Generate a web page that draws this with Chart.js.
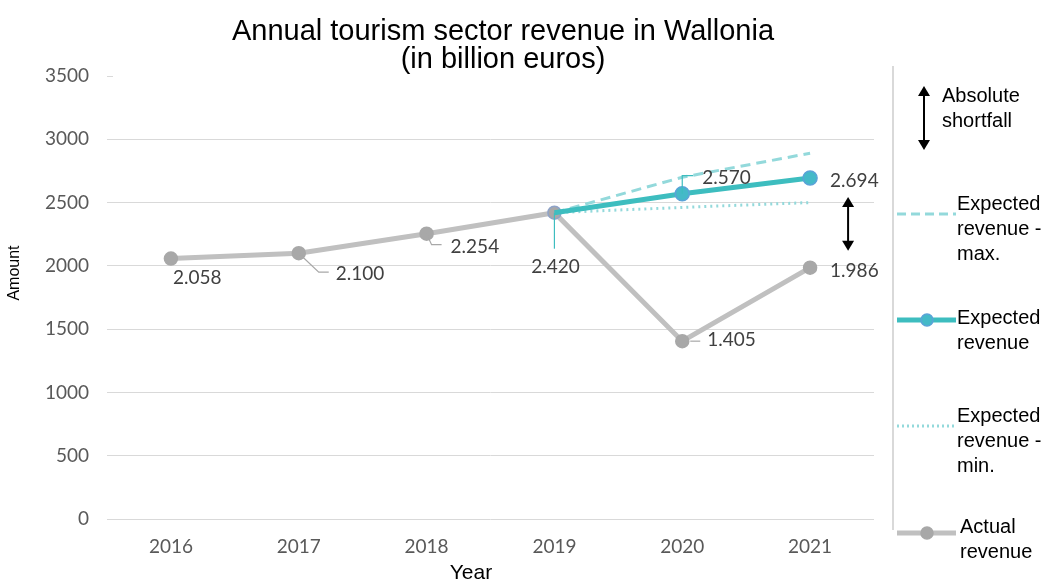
<!DOCTYPE html>
<html>
<head>
<meta charset="utf-8">
<script src="https://cdn.jsdelivr.net/npm/chart.js@4.4.1/dist/chart.umd.min.js"></script>
<style>
  html, body { margin: 0; padding: 0; background: #ffffff; }
  #wrap { width: 1046px; height: 584px; }
</style>
</head>
<body>
<div id="wrap"><canvas id="c" width="1046" height="584"></canvas></div>
<script>
// Years on the horizontal axis
const years = ['2016', '2017', '2018', '2019', '2020', '2021'];

// Revenue in million euros (labels show billions)
const actualRevenue   = [2058, 2100, 2254, 2420, 1405, 1986];
const expectedRevenue = [null, null, null, 2420, 2570, 2694];
const expectedMax     = [null, null, null, 2420, 2700, 2890];
const expectedMin     = [null, null, null, 2420, 2462, 2500];

// Vertical axis ticks
const yTickValues = [0, 500, 1000, 1500, 2000, 2500, 3000, 3500];

const titleLines = ['Annual tourism sector revenue in Wallonia', '(in billion euros)'];
const xAxisTitle = 'Year';
const yAxisTitle = 'Amount';

const TEAL = '#3dbdbf';
const TEAL_LIGHT = '#93d9db';
const GREY = '#c0c0c0';
const GREY_DOT = '#a8a8a8';
const GRID = '#d9d9d9';
const LABEL_COLOR = '#404040';
const LABEL_FONT = '19px Lato';

// Where each value label sits relative to its point, with optional leader line
const actualLabelPlacement = [
  { dx: 2, dy: 19, align: 'left' },
  { dx: 37, dy: 21, align: 'left', leader: [[0, 0], [20, 19], [30, 19]] },
  { dx: 24, dy: 13, align: 'left', leader: [[0, 0], [5, 11], [15, 11]] },
  { dx: 1, dy: 54, align: 'center', leader: [[0, 0], [0, 36]], leaderColor: TEAL },
  { dx: 25, dy: -1, align: 'left', leader: [[8, 0], [18, 0]] },
  { dx: 20, dy: 3, align: 'left' }
];
const expectedLabelPlacement = [
  null, null, null, null,
  { dx: 20, dy: -16, align: 'left', leader: [[0, 0], [0, -18], [11, -18]], leaderColor: TEAL },
  { dx: 20, dy: 3, align: 'left' }
];

function fmtBillion(v) {
  return (v / 1000).toFixed(3);
}

function drawArrow(ctx, x, y1, y2, head, width) {
  ctx.save();
  ctx.strokeStyle = '#000';
  ctx.fillStyle = '#000';
  ctx.lineWidth = width;
  ctx.beginPath();
  ctx.moveTo(x, y1 + head - 1);
  ctx.lineTo(x, y2 - head + 1);
  ctx.stroke();
  ctx.beginPath();
  ctx.moveTo(x, y1);
  ctx.lineTo(x - head * 0.6, y1 + head);
  ctx.lineTo(x + head * 0.6, y1 + head);
  ctx.closePath();
  ctx.fill();
  ctx.beginPath();
  ctx.moveTo(x, y2);
  ctx.lineTo(x - head * 0.6, y2 - head);
  ctx.lineTo(x + head * 0.6, y2 - head);
  ctx.closePath();
  ctx.fill();
  ctx.restore();
}

function drawLabels(chart, datasetIndex, placements) {
  const ctx = chart.ctx;
  const meta = chart.getDatasetMeta(datasetIndex);
  const values = chart.data.datasets[datasetIndex].data;
  meta.data.forEach((pt, i) => {
    const p = placements[i];
    if (!p || values[i] == null) return;
    const x = pt.x, y = pt.y;
    if (p.leader) {
      ctx.save();
      ctx.strokeStyle = p.leaderColor || GREY_DOT;
      ctx.lineWidth = 1.2;
      ctx.beginPath();
      p.leader.forEach(([lx, ly], k) => {
        if (k === 0) ctx.moveTo(x + lx, y + ly); else ctx.lineTo(x + lx, y + ly);
      });
      ctx.stroke();
      ctx.restore();
    }
    ctx.save();
    ctx.font = LABEL_FONT;
    ctx.fillStyle = LABEL_COLOR;
    ctx.textAlign = p.align;
    ctx.textBaseline = 'middle';
    ctx.fillText(fmtBillion(values[i]), x + p.dx, y + p.dy);
    ctx.restore();
  });
}

const annotationsPlugin = {
  id: 'annotations',
  beforeDatasetsDraw(chart) {
    // the top grid line only shows as a short stub next to its label
    const ctx = chart.ctx;
    const y = chart.scales.y.getPixelForValue(yTickValues[yTickValues.length - 1]);
    const left = chart.chartArea.left;
    ctx.save();
    ctx.strokeStyle = GRID;
    ctx.lineWidth = 1;
    ctx.beginPath();
    ctx.moveTo(left, Math.round(y) + 0.5);
    ctx.lineTo(left + 6, Math.round(y) + 0.5);
    ctx.stroke();
    ctx.restore();
  },
  afterDatasetsDraw(chart) {
    const ctx = chart.ctx;
    drawLabels(chart, 3, actualLabelPlacement);
    drawLabels(chart, 1, expectedLabelPlacement);

    // shortfall arrow between expected and actual revenue in the last year
    const y = chart.scales.y;
    const last = years.length - 1;
    const xArrow = chart.scales.x.getPixelForValue(last) + 38;
    drawArrow(ctx, xArrow, y.getPixelForValue(expectedRevenue[last]) + 19,
      y.getPixelForValue(actualRevenue[last]) - 17, 10, 2);
  },
  afterDraw(chart) {
    const ctx = chart.ctx;
    // title
    ctx.save();
    ctx.font = '29px Arial';
    ctx.fillStyle = '#000';
    ctx.textAlign = 'center';
    ctx.textBaseline = 'middle';
    ctx.fillText(titleLines[0], 503, 32);
    ctx.fillText(titleLines[1], 503, 60);
    ctx.restore();

    // axis titles
    ctx.save();
    ctx.fillStyle = '#000';
    ctx.textAlign = 'center';
    ctx.textBaseline = 'middle';
    ctx.font = '21px Arial';
    ctx.fillText(xAxisTitle, 471, 573);
    ctx.translate(15, 273);
    ctx.rotate(-Math.PI / 2);
    ctx.font = '16px Arial';
    ctx.fillText(yAxisTitle, 0, 0);
    ctx.restore();

    // legend panel
    ctx.save();
    ctx.strokeStyle = GRID;
    ctx.lineWidth = 2;
    ctx.beginPath();
    ctx.moveTo(893, 66);
    ctx.lineTo(893, 530);
    ctx.stroke();
    ctx.restore();

    const text = (lines, x, y0, step) => {
      ctx.save();
      ctx.font = '20px Arial';
      ctx.fillStyle = '#000';
      ctx.textAlign = 'left';
      ctx.textBaseline = 'middle';
      lines.forEach((l, k) => ctx.fillText(l, x, y0 + k * step));
      ctx.restore();
    };

    drawArrow(ctx, 924, 86, 150, 10, 2);
    text(['Absolute', 'shortfall'], 942, 96, 25);

    const sample = (y, color, width, dash, marker, fill, border) => {
      ctx.save();
      ctx.strokeStyle = color;
      ctx.lineWidth = width;
      ctx.setLineDash(dash);
      ctx.beginPath();
      ctx.moveTo(897, y);
      ctx.lineTo(956, y);
      ctx.stroke();
      ctx.setLineDash([]);
      if (marker) {
        ctx.fillStyle = fill;
        ctx.strokeStyle = border;
        ctx.lineWidth = 1.5;
        ctx.beginPath();
        ctx.arc(927, y, 6, 0, Math.PI * 2);
        ctx.fill();
        ctx.stroke();
      }
      ctx.restore();
    };

    sample(214, TEAL_LIGHT, 3, [9, 5], false);
    text(['Expected', 'revenue -', 'max.'], 957, 204, 25);

    sample(320, TEAL, 5, [], true, '#44b9c8', '#5aa3d8');
    text(['Expected', 'revenue'], 957, 318, 25);

    sample(426, TEAL_LIGHT, 3, [2, 3], false);
    text(['Expected', 'revenue -', 'min.'], 957, 416, 25);

    sample(533, GREY, 5, [], true, GREY_DOT, GREY_DOT);
    text(['Actual', 'revenue'], 960, 527, 25);
  }
};

new Chart(document.getElementById('c'), {
  type: 'line',
  data: {
    labels: years,
    datasets: [
      {
        label: 'Expected revenue - max.',
        data: expectedMax,
        borderColor: TEAL_LIGHT,
        borderWidth: 3,
        borderDash: [10, 6],
        pointRadius: 0,
        fill: false,
        order: 3
      },
      {
        label: 'Expected revenue',
        data: expectedRevenue,
        borderColor: TEAL,
        borderWidth: 5,
        pointRadius: [0, 0, 0, 0, 7, 7],
        pointBackgroundColor: '#44b9c8',
        pointBorderColor: '#5aa3d8',
        pointBorderWidth: 1.5,
        fill: false,
        order: 1
      },
      {
        label: 'Expected revenue - min.',
        data: expectedMin,
        borderColor: TEAL_LIGHT,
        borderWidth: 3,
        borderDash: [2, 4],
        pointRadius: 0,
        fill: false,
        order: 4
      },
      {
        label: 'Actual revenue',
        data: actualRevenue,
        borderColor: GREY,
        borderWidth: 5,
        pointRadius: 6.5,
        pointBackgroundColor: GREY_DOT,
        pointBorderColor: [GREY_DOT, GREY_DOT, GREY_DOT, '#8fa3c8', GREY_DOT, GREY_DOT],
        pointBorderWidth: 1.5,
        fill: false,
        order: 2
      }
    ]
  },
  options: {
    responsive: false,
    animation: false,
    spanGaps: false,
    layout: { padding: { left: 0, right: 172, top: 76, bottom: 0 } },
    plugins: {
      legend: { display: false },
      title: { display: false },
      tooltip: { enabled: false }
    },
    scales: {
      x: {
        type: 'category',
        offset: true,
        grid: { display: false, drawTicks: false },
        border: { display: false },
        ticks: { font: { family: 'Lato', size: 19 }, color: '#595959', padding: 16 },
        title: { display: false },
        afterFit(s) { s.height = 65; }
      },
      y: {
        min: 0,
        max: 3500,
        afterBuildTicks(s) { s.ticks = yTickValues.map(v => ({ value: v })); },
        grid: {
          drawTicks: false,
          color: (c) => (c.tick && c.tick.value === 3500) ? 'rgba(0,0,0,0)' : GRID,
          lineWidth: 1
        },
        border: { display: false },
        ticks: {
          font: { family: 'Lato', size: 19 },
          color: '#595959',
          padding: 18,
          callback: (v) => String(v)
        },
        title: { display: false },
        afterFit(s) { s.width = 107; }
      }
    }
  },
  plugins: [annotationsPlugin]
});
</script>
</body>
</html>
